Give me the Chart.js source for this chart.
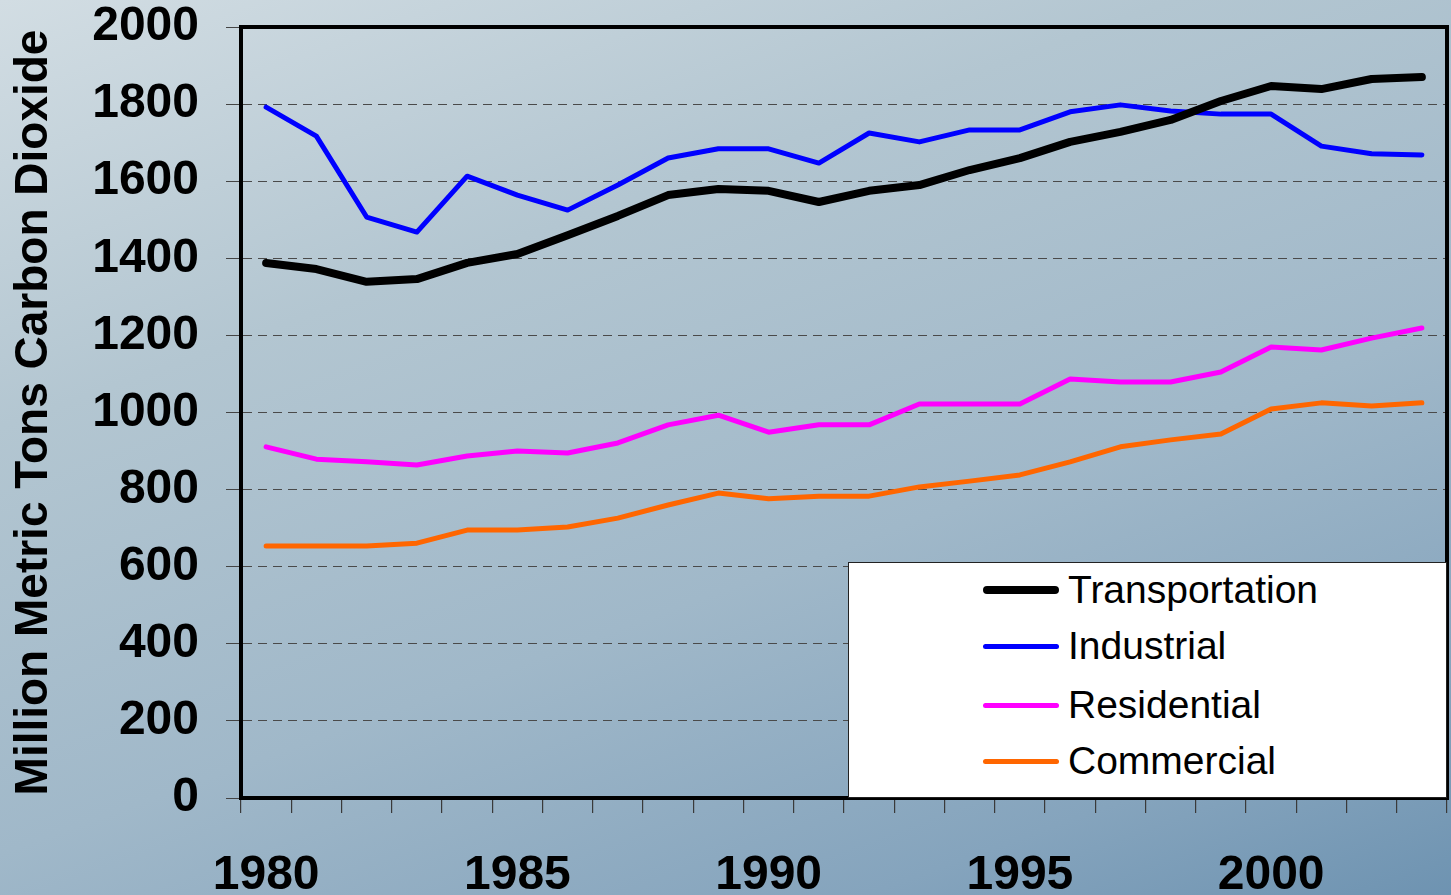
<!DOCTYPE html>
<html>
<head>
    <title>CO2 Emissions by Sector</title>
    <script src="https://cdn.jsdelivr.net/npm/chart.js"></script>
    <style>
        html, body { margin: 0; padding: 0; }
        body {
            width: 1451px; height: 895px; overflow: hidden;
            background: linear-gradient(160deg, #d2dde3 0%, #b3c6d1 30%, #a0b8c9 60%, #85a4bd 85%, #6e93b1 100%);
            font-family: "Liberation Sans", Arial, sans-serif;
        }
        #wrap { position: relative; width: 1451px; height: 895px; }
        #legend {
            position: absolute; left: 848px; top: 562px; width: 597px; height: 234px;
            background: #fff; border: 1px solid #222;
        }
        .item { position: absolute; left: 134px; height: 40px; }
        .item .swatch { position: absolute; left: 0; width: 76px; border-radius: 5px; }
        .item .lbl { position: absolute; left: 85px; top: 0; font-size: 39px; line-height: 40px; color: #000; white-space: nowrap; }
    </style>
</head>
<body>
<div id="wrap">
    <canvas id="chart" width="1451" height="895"></canvas>
    <div id="legend"></div>
</div>
<script>
    // years on the x axis
    var years = [1980, 1981, 1982, 1983, 1984, 1985, 1986, 1987, 1988, 1989, 1990, 1991,
                 1992, 1993, 1994, 1995, 1996, 1997, 1998, 1999, 2000, 2001, 2002, 2003];

    // million metric tons CO2
    var transportation = [1388, 1372, 1339, 1346, 1388, 1411, 1460, 1510, 1564, 1580, 1575, 1546,
                          1575, 1590, 1629, 1660, 1702, 1728, 1759, 1808, 1847, 1839, 1865, 1870];
    var industrial = [1792, 1717, 1507, 1468, 1613, 1564, 1525, 1590, 1660, 1684, 1684, 1647,
                      1725, 1702, 1733, 1733, 1780, 1798, 1782, 1774, 1774, 1691, 1671, 1668];
    var residential = [911, 879, 872, 864, 887, 900, 895, 921, 968, 993, 949, 968,
                       968, 1022, 1022, 1022, 1087, 1079, 1079, 1105, 1170, 1162, 1193, 1219];
    var commercial = [654, 654, 654, 661, 695, 695, 703, 726, 760, 791, 776, 783,
                      783, 807, 822, 838, 872, 911, 929, 944, 1009, 1025, 1017, 1025];

    var seriesNames = ["Transportation", "Industrial", "Residential", "Commercial"];
    var seriesColors = ["#000000", "#0000ff", "#ff00ff", "#ff6600"];
    var seriesWidths = [8, 5, 5, 5];

    var allSeries = [transportation, industrial, residential, commercial];

    var datasets = allSeries.map(function(values, i) {
        return {
            label: seriesNames[i],
            data: values,
            borderColor: seriesColors[i],
            backgroundColor: seriesColors[i],
            borderWidth: seriesWidths[i],
            borderCapStyle: 'round',
            borderJoinStyle: 'round',
            pointRadius: 0,
            tension: 0,
            fill: false
        };
    });

    // thick frame round the plot (top and right sides)
    var frame = {
        id: 'frame',
        afterDraw: function(chart) {
            var a = chart.chartArea, ctx = chart.ctx;
            ctx.save();
            ctx.strokeStyle = '#000';
            ctx.lineWidth = 4;
            ctx.strokeRect(a.left, a.top, a.right - a.left, a.bottom - a.top);
            ctx.restore();
        }
    };

    new Chart(document.getElementById("chart"), {
        type: 'line',
        data: { labels: years, datasets: datasets },
        plugins: [frame],
        options: {
            responsive: false,
            animation: false,
            layout: { padding: { top: 27, right: 4, left: 0, bottom: 0 } },
            plugins: { legend: { display: false }, tooltip: { enabled: false } },
            scales: {
                x: {
                    offset: true,
                    grid: { offset: true, drawOnChartArea: false, drawTicks: true, tickLength: 15, color: '#3a3a3a', lineWidth: 1.2 },
                    border: { display: true, color: '#000', width: 4 },
                    ticks: {
                        autoSkip: false, maxRotation: 0, padding: 34,
                        color: '#000',
                        font: { family: 'Liberation Sans', size: 48, weight: 'bold' },
                        callback: function(v, i) { return years[i] % 5 === 0 ? String(years[i]) : ''; }
                    },
                    afterFit: function(s) { s.height = 97; s.paddingLeft = 0; s.paddingRight = 0; }
                },
                y: {
                    min: 0, max: 2000,
                    grid: { color: '#4a4a4a', lineWidth: 1, tickLength: 15, tickBorderDash: [], tickColor: '#444' },
                    border: { display: true, color: '#000', width: 4, dash: [9, 6] },
                    ticks: {
                        stepSize: 200, padding: 27, color: '#000',
                        font: { family: 'Liberation Sans', size: 48, weight: 'bold', lineHeight: 1 },
                        callback: function(v) { return String(v); }
                    },
                    title: {
                        display: true,
                        text: 'Million Metric Tons Carbon Dioxide',
                        color: '#000',
                        font: { family: 'Liberation Sans', size: 46, weight: 'bold', lineHeight: 1 },
                        padding: { top: 11, bottom: 0 }
                    },
                    afterFit: function(s) { s.width = 241; s.paddingTop = 0; s.paddingBottom = 0; }
                }
            }
        }
    });

    // legend box in the lower right
    var legend = document.getElementById("legend");
    var rowTops = [7, 63, 122, 178];
    seriesNames.forEach(function(name, i) {
        var item = document.createElement("div");
        item.className = "item";
        item.style.top = rowTops[i] + "px";
        var sw = document.createElement("div");
        sw.className = "swatch";
        sw.style.background = seriesColors[i];
        sw.style.height = seriesWidths[i] + "px";
        sw.style.top = (20 - seriesWidths[i] / 2) + "px";
        var lbl = document.createElement("div");
        lbl.className = "lbl";
        lbl.textContent = name;
        item.appendChild(sw);
        item.appendChild(lbl);
        legend.appendChild(item);
    });
</script>
</body>
</html>
